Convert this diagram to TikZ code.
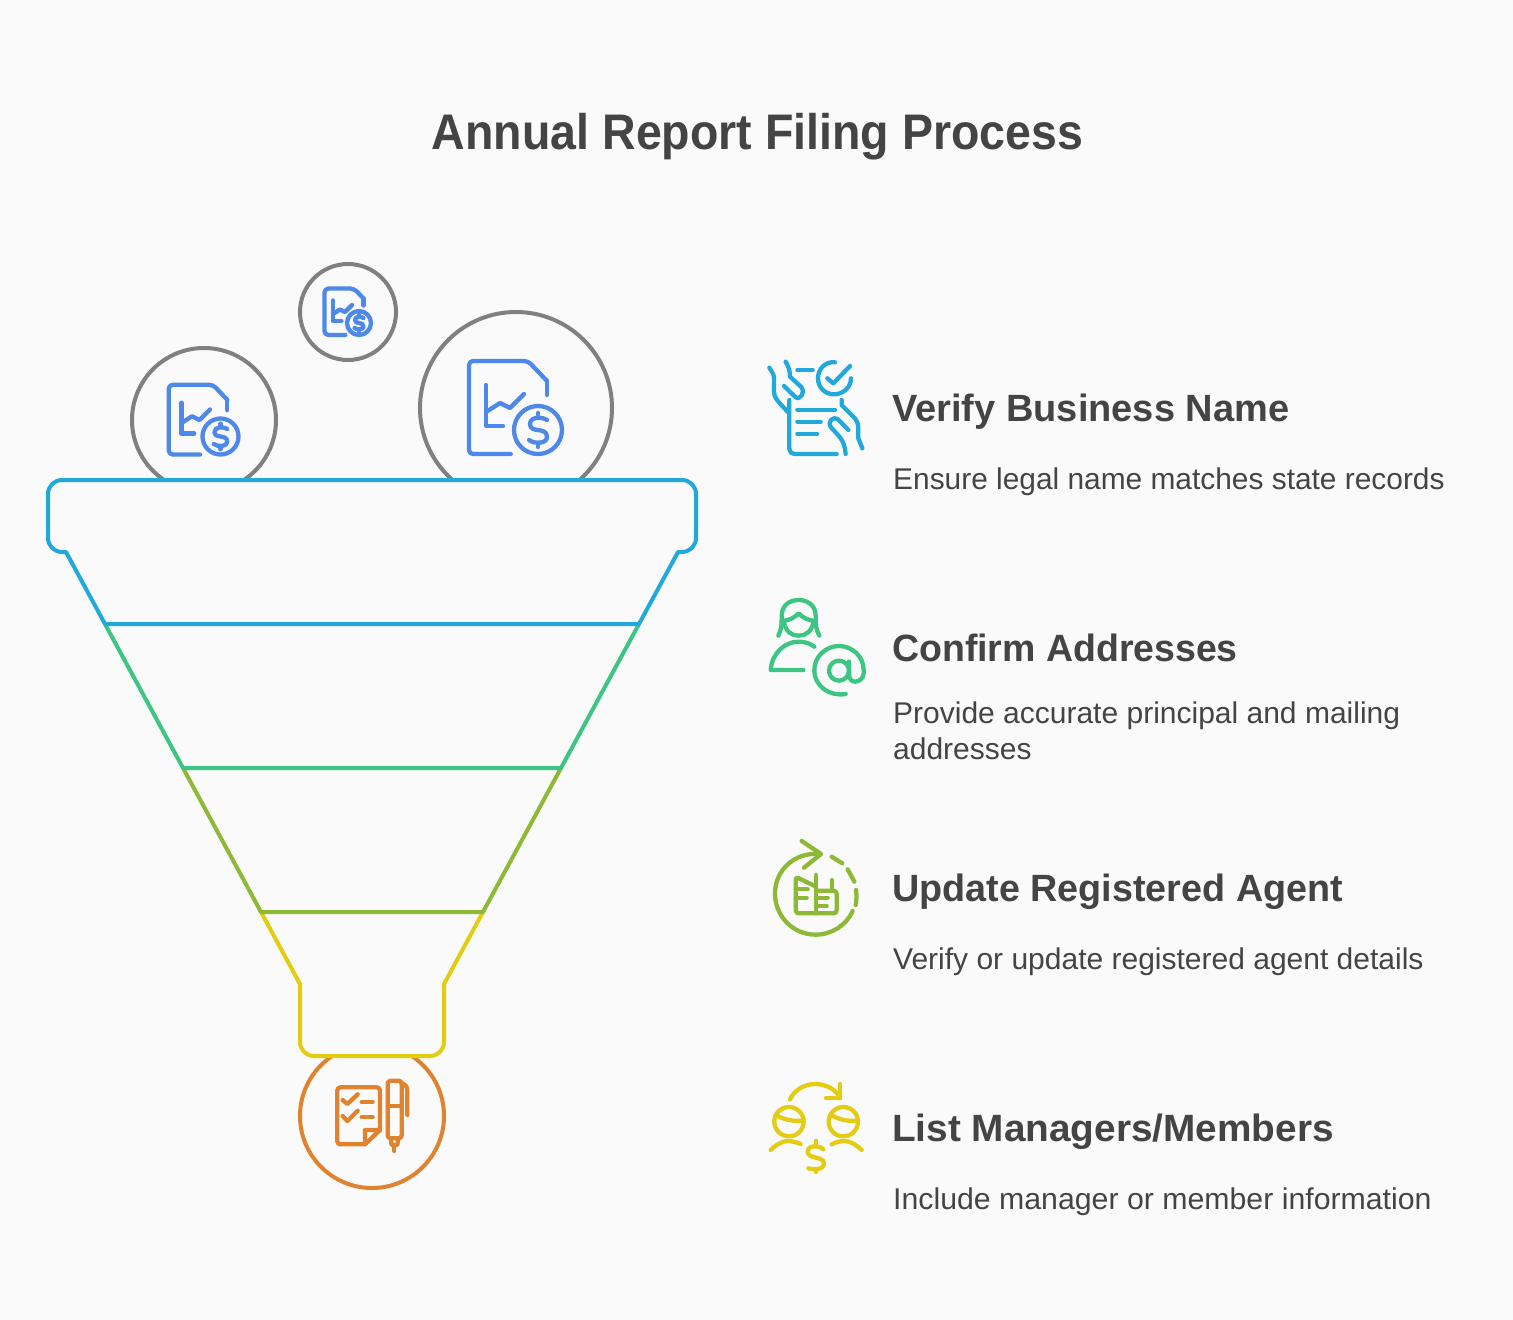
\documentclass[tikz,border=0pt]{standalone}
\usepackage{fontspec}
\setmainfont{Liberation Sans}
\definecolor{bgc}{HTML}{FAFAFA}
\definecolor{txt}{HTML}{444444}
\definecolor{cblue}{HTML}{22A9DB}
\definecolor{cgreen}{HTML}{3CC583}
\definecolor{colive}{HTML}{8DB936}
\definecolor{cyellow}{HTML}{E3CC12}
\definecolor{corange}{HTML}{E0832E}
\definecolor{cgray}{HTML}{808080}
\definecolor{cicon}{HTML}{4E88E8}
\tikzset{
  outl/.style={line width=4pt,line join=round,line cap=round},
  ico/.style={line width=4.3pt,line join=round,line cap=round},
  titletext/.style={anchor=base,inner sep=0pt,text=txt,transform shape,font=\fontsize{50}{60}\selectfont\bfseries},
  headtext/.style={anchor=base west,inner sep=0pt,text=txt,transform shape,font=\fontsize{38}{46}\selectfont\bfseries},
  bodytext/.style={anchor=base west,inner sep=0pt,text=txt,transform shape,font=\fontsize{30}{36}\selectfont},
  docicon/.pic={
    \draw[ico,cicon,rounded corners=4pt] (-5.3,46) -- (-47,46) -- (-47,-47) -- (12,-47) -- (31,-27);
    \draw[ico,cicon] (31,-27) -- (31,-13);
    \draw[ico,cicon] (-30,-23) -- (-30,18) -- (-13,18);
    \draw[ico,cicon] (-30,4) -- (-16,-5) -- (-6,0) -- (8,-14);
    \draw[ico,cicon] (22,22) circle[radius=24];
    \draw[ico,cicon] (31,12) .. controls (27,9) and (14,8) .. (14,16) .. controls (14,26) and (31,18) .. (31,29) .. controls (31,36) and (18,36) .. (13,32);
    \draw[ico,cicon] (22,5) -- (22,9);
    \draw[ico,cicon] (22,35) -- (22,39);
  }
}
\begin{document}
\begin{tikzpicture}[x=1pt,y=-1pt]
\useasboundingbox (0,0) rectangle (1513,1320);
\fill[bgc] (0,0) rectangle (1513,1320);
\node[titletext,xscale=0.93] (title) at (757.5,149) {Annual Report Filing Process};
% balls
\begin{scope}
\clip (0,0) rectangle (1513,480);
\draw[outl,cgray] (204,420) circle[radius=72];
\draw[outl,cgray] (516,408) circle[radius=96];
\end{scope}
\draw[outl,cgray] (348,312) circle[radius=48];
\pic[scale=0.75] at (204,420) {docicon};
\pic[scale=0.5] at (348,312) {docicon};
\pic at (516,408) {docicon};
% output ball
\begin{scope}
\clip (0,1056) rectangle (1513,1320);
\draw[outl,corange] (372,1116) circle[radius=72];
\end{scope}
\begin{scope}[shift={(290,1040)},scale=1/3]
\draw[ico,corange,rounded corners=3pt] (225,313) -- (142,313) -- (142,142) -- (270,142) -- (270,270);
\draw[ico,corange] (270,270) -- (225,313) -- (225,270) -- (270,270);
\draw[ico,corange] (158,180) -- (172,192) -- (203,163);
\draw[ico,corange] (158,228) -- (172,243) -- (203,212);
\draw[ico,corange] (215,186) -- (248,186);
\draw[ico,corange] (215,232) -- (248,232);
\draw[ico,corange,rounded corners=3pt] (293,122) rectangle (335,295);
\draw[ico,corange] (293,197) -- (335,197);
\draw[ico,corange] (335,130) .. controls (345,132) and (352,140) .. (352,152) -- (352,225);
\draw[ico,corange] (302,295) -- (305,315) -- (322,315) -- (325,295);
\draw[ico,corange] (313,315) -- (313,333);
\end{scope}
% funnel
\draw[outl,cyellow] (261,912) -- (300,984) [rounded corners=14pt] -- (300,1056) -- (444,1056) [sharp corners] -- (444,984) -- (483,912);
\draw[outl,colive] (183,768) -- (261,912) -- (483,912) -- (561,768);
\draw[outl,cgreen] (105,624) -- (183,768) -- (561,768) -- (639,624);
\draw[outl,cblue] (105,624) -- (66,552) [rounded corners=14pt] -- (48,552) -- (48,480) -- (696,480) -- (696,552) [sharp corners] -- (678,552) -- (639,624) -- cycle;
% icon 1
\begin{scope}[shift={(755,350)},scale=1/3]
\draw[ico,cblue] (43,53) .. controls (50,65) and (57,72) .. (57,85) -- (57,125) .. controls (57,140) and (65,152) .. (100,187);
\draw[ico,cblue] (92,35) .. controls (100,50) and (105,60) .. (105,80) -- (140,112) .. controls (152,125) and (135,155) .. (120,140) -- (87,108);
\draw[ico,cblue,rounded corners=5pt] (103,150) -- (103,312) -- (245,312);
\draw[ico,cblue] (127,60) -- (173,60);
\draw[ico,cblue] (127,179) -- (240,179);
\draw[ico,cblue] (127,215) -- (197,215);
\draw[ico,cblue] (127,251) -- (186,251);
\draw[ico,cblue] (240,37) .. controls (210,33) and (189,58) .. (189,85) .. controls (189,112) and (210,133) .. (237,133) .. controls (264,133) and (288,112) .. (288,85);
\draw[ico,cblue] (217,85) -- (235,100) -- (285,48);
\draw[ico,cblue] (260,150) -- (260,165) -- (295,200) .. controls (305,210) and (310,220) .. (310,235) -- (310,265) -- (322,295);
\draw[ico,cblue] (280,240) -- (248,207) .. controls (235,198) and (215,215) .. (228,232) -- (255,262) .. controls (265,275) and (270,290) .. (272,312);
\end{scope}
% icon 2
\begin{scope}[shift={(755,590)},scale=1/3]
\draw[ico,cgreen] (70,137) .. controls (80,115) and (80,105) .. (80,78) .. controls (80,45) and (105,30) .. (131,30) .. controls (157,30) and (182,45) .. (182,78) .. controls (182,105) and (182,115) .. (193,137);
\draw[ico,cgreen] (85,93) .. controls (105,90) and (120,82) .. (131,70) .. controls (142,82) and (157,90) .. (178,93);
\draw[ico,cgreen] (87,97) .. controls (92,125) and (110,137) .. (131,137) .. controls (152,137) and (170,125) .. (175,97);
\draw[ico,cgreen] (145,240) -- (47,240) .. controls (50,190) and (90,155) .. (130,155) .. controls (150,155) and (165,160) .. (178,170);
\draw[ico,cgreen] (272,312) .. controls (225,320) and (178,290) .. (178,240) .. controls (178,200) and (212,168) .. (252,168) .. controls (292,168) and (326,200) .. (326,240) -- (326,250) .. controls (326,265) and (312,275) .. (300,275) .. controls (288,275) and (282,265) .. (282,250) -- (282,215);
\draw[ico,cgreen] (252,242) circle[radius=30];
\end{scope}
% icon 3
\begin{scope}[shift={(755,830)},scale=1/3]
\draw[ico,colive] (140,33) -- (198,72) -- (147,113);
\draw[ico,colive] (195,72) .. controls (120,65) and (60,120) .. (60,190) .. controls (60,260) and (115,314) .. (182,314) .. controls (230,314) and (275,285) .. (293,243);
\draw[ico,colive] (230,80) -- (262,100);
\draw[ico,colive] (278,118) -- (298,155);
\draw[ico,colive] (303,180) .. controls (305,195) and (305,210) .. (302,225);
\draw[ico,colive,rounded corners=3pt] (183,170) -- (122,140) -- (122,250) -- (245,250) -- (245,182) -- (183,182);
\draw[ico,colive] (183,135) -- (183,250);
\draw[ico,colive] (230,150) -- (230,182);
\draw[ico,colive] (122,178) -- (158,178);
\draw[ico,colive] (122,203) -- (155,203);
\draw[ico,colive] (190,203) -- (218,203);
\draw[ico,colive] (190,228) -- (215,228);
\end{scope}
% icon 4
\begin{scope}[shift={(755,1070)},scale=1/3]
\draw[ico,cyellow] (105,88) .. controls (120,58) and (150,42) .. (180,42) .. controls (215,42) and (245,60) .. (255,85);
\draw[ico,cyellow] (255,42) -- (255,85) -- (213,85);
\draw[ico,cyellow] (102,155) circle[radius=44];
\draw[ico,cyellow] (265,155) circle[radius=44];
\draw[ico,cyellow] (62,135) .. controls (85,148) and (115,155) .. (140,152);
\draw[ico,cyellow] (228,135) .. controls (250,148) and (280,155) .. (303,152);
\draw[ico,cyellow] (47,240) .. controls (65,222) and (85,213) .. (98,213) .. controls (110,213) and (125,217) .. (137,222);
\draw[ico,cyellow] (230,223) .. controls (242,217) and (255,213) .. (268,213) .. controls (285,213) and (305,225) .. (320,240);
\draw[ico,cyellow] (205,238) .. controls (190,225) and (158,225) .. (158,245) .. controls (158,268) and (207,258) .. (207,280) .. controls (207,300) and (175,300) .. (160,295);
\draw[ico,cyellow] (182,212) -- (182,225);
\draw[ico,cyellow] (182,297) -- (182,306);
\end{scope}
% texts
\node[headtext] (h1) at (892,421) {Verify Business Name};
\node[bodytext,xscale=0.996] (b1) at (893,489) {Ensure legal name matches state records};
\node[headtext,xscale=0.986] (h2) at (892,661) {Confirm Addresses};
\node[bodytext] (b2a) at (893,723) {Provide accurate principal and mailing};
\node[bodytext] (b2b) at (893,759) {addresses};
\node[headtext,xscale=0.993] (h3) at (892,901) {Update Registered Agent};
\node[bodytext] (b3) at (893,969) {Verify or update registered agent details};
\node[headtext,xscale=1.02] (h4) at (892,1141) {List Managers/Members};
\node[bodytext,xscale=1.009] (b4) at (893,1209) {Include manager or member information};
\end{tikzpicture}
\end{document}
